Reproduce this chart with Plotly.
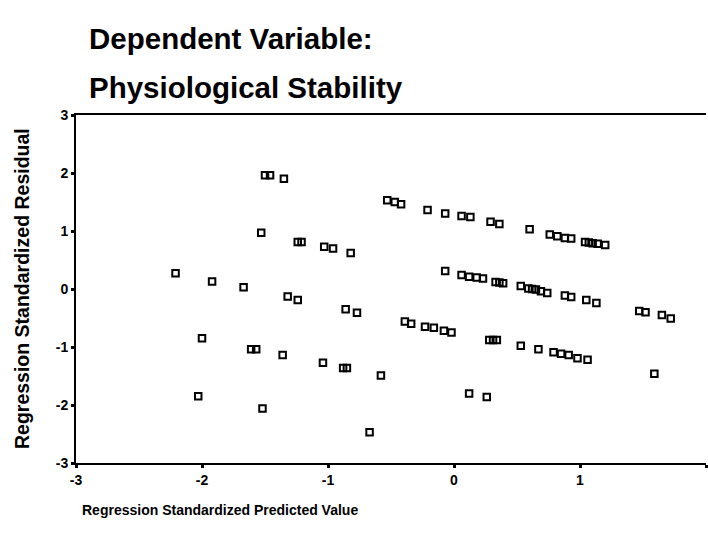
import plotly.graph_objects as go

# Standardized predicted values (x) and standardized residuals (y)
pred = [
    -1.50, -1.46, -1.35, -0.53, -0.47, -0.42, -0.21, -0.07, 0.06, 0.13, 0.29, 0.36,
    0.60, 0.76, 0.82, 0.88, 0.93, 1.04, 1.07, 1.10, 1.14, 1.20,
    -1.53, -1.24, -1.21, -1.03, -0.96, -0.82, -0.07, 0.06, 0.12, 0.18, 0.23, 0.33,
    0.36, 0.39, 0.53, 0.59, 0.62, 0.65, 0.69, 0.74, 0.88, 0.93, 1.05, 1.13, 1.47,
    1.52, 1.65, 1.72,
    -2.21, -1.92, -1.67, -1.32, -1.24, -0.86, -0.77, -0.39, -0.34, -0.23, -0.16,
    -0.08, -0.02, 0.28, 0.31, 0.34, 0.53, 0.67, 0.79, 0.85, 0.91, 0.98, 1.06, 1.59,
    -2.00, -1.61, -1.57, -1.36, -1.04, -0.88, -0.85, -0.58,
    -2.03, -1.52, 0.12, 0.26, -0.67,
]
resid = [
    1.96, 1.96, 1.90, 1.53, 1.50, 1.46, 1.36, 1.30, 1.26, 1.24, 1.16, 1.12,
    1.03, 0.94, 0.91, 0.88, 0.87, 0.81, 0.80, 0.79, 0.78, 0.76,
    0.97, 0.81, 0.81, 0.73, 0.70, 0.62, 0.31, 0.24, 0.21, 0.20, 0.18, 0.12,
    0.11, 0.10, 0.05, 0.01, 0.00, -0.01, -0.04, -0.07, -0.11, -0.14, -0.19, -0.24,
    -0.38, -0.40, -0.45, -0.51,
    0.27, 0.13, 0.03, -0.13, -0.19, -0.35, -0.41, -0.56, -0.60, -0.65, -0.67,
    -0.72, -0.75, -0.88, -0.88, -0.88, -0.98, -1.04, -1.09, -1.115, -1.14, -1.195,
    -1.22, -1.46,
    -0.85, -1.04, -1.04, -1.14, -1.27, -1.36, -1.36, -1.49,
    -1.85, -2.06, -1.80, -1.86, -2.47,
]

x_ticks = [-3, -2, -1, 0, 1, 2]
x_tick_text = ["-3", "-2", "-1", "0", "1", "2"]
y_ticks = [-3, -2, -1, 0, 1, 2, 3]
y_tick_text = ["-3", "-2", "-1", "0", "1", "2", "3"]

FONT = "Liberation Sans, Arial, sans-serif"

fig = go.Figure(
    go.Scatter(
        x=pred,
        y=resid,
        mode="markers",
        marker=dict(symbol="square-open", size=6.5, color="black",
                    line=dict(width=2, color="black")),
        hoverinfo="x+y",
    )
)

axis_common = dict(
    showgrid=False,
    zeroline=False,
    showline=True,
    linecolor="black",
    linewidth=2,
    ticks="outside",
    ticklen=3,
    tickwidth=3,
    tickcolor="black",
    tickfont=dict(family=FONT, size=14, color="black", weight="bold"),
)

fig.update_layout(
    width=708,
    height=546,
    margin=dict(l=76, r=2, t=115, b=83),
    paper_bgcolor="white",
    plot_bgcolor="white",
    showlegend=False,
    xaxis=dict(range=[-3, 2], tickvals=x_ticks, ticktext=x_tick_text,
               mirror=True, **axis_common),
    yaxis=dict(range=[-3, 3], tickvals=y_ticks, ticktext=y_tick_text, **axis_common),
    annotations=[
        dict(text="Dependent Variable:", xref="paper", yref="paper",
             x=0.017, y=1.221, xanchor="left", yanchor="middle", showarrow=False,
             font=dict(family=FONT, size=29.5, color="black", weight="bold")),
        dict(text="Physiological Stability", xref="paper", yref="paper",
             x=0.017, y=1.078, xanchor="left", yanchor="middle", showarrow=False,
             font=dict(family=FONT, size=29.5, color="black", weight="bold")),
        dict(text="Regression Standardized Residual", xref="paper", yref="paper",
             x=-0.0857, y=0.5, xanchor="center", yanchor="middle", textangle=-90,
             showarrow=False,
             font=dict(family=FONT, size=19.5, color="black", weight="bold")),
        dict(text="Regression Standardized Predicted Value", xref="paper", yref="paper",
             x=0.2286, y=-0.135, xanchor="center", yanchor="middle", showarrow=False,
             font=dict(family=FONT, size=14, color="black", weight="bold")),
    ],
)

fig.write_html("out.html")
